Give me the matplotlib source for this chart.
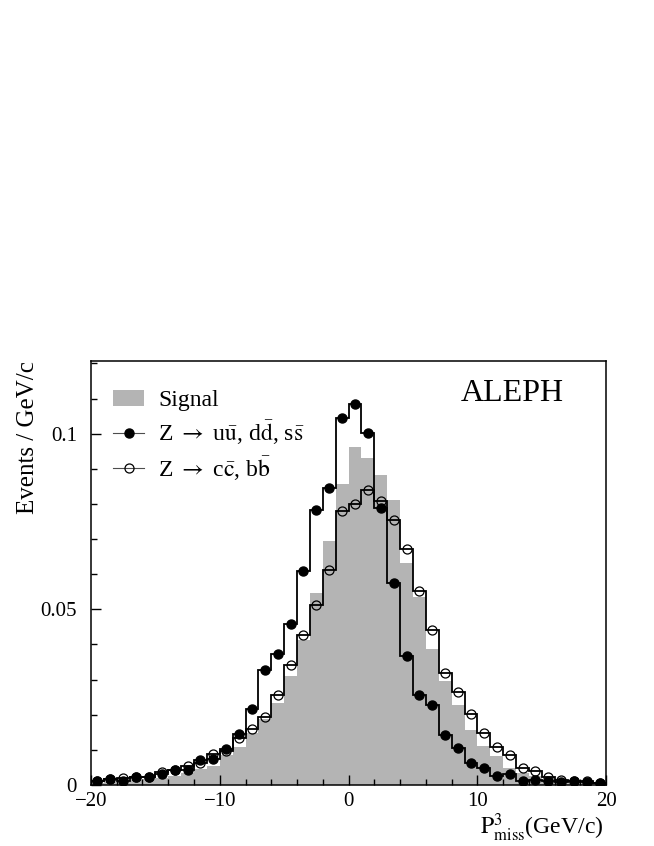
import numpy as np
import matplotlib
matplotlib.use("Agg")
import matplotlib.pyplot as plt
from matplotlib.ticker import MultipleLocator, FixedLocator
from matplotlib.patches import Patch
from matplotlib.lines import Line2D

plt.rcParams['font.family'] = ['Liberation Serif', 'DejaVu Serif']
plt.rcParams['mathtext.fontset'] = 'stix'

# bin edges of P_miss^3 (GeV/c), 1 GeV/c wide
edges = np.arange(-20, 21, 1)
centers = edges[:-1] + 0.5

signal = [0.0006, 0.0008, 0.0010, 0.0013, 0.0016, 0.0020, 0.0027, 0.0035, 0.0046, 0.0055,
          0.0085, 0.0109, 0.0147, 0.0187, 0.0234, 0.0310, 0.0412, 0.0547, 0.0696, 0.0857,
          0.0963, 0.0931, 0.0883, 0.0812, 0.0632, 0.0535, 0.0388, 0.0296, 0.0227, 0.0156,
          0.0111, 0.0082, 0.0049, 0.0033, 0.0025, 0.0017, 0.0012, 0.0008, 0.0006, 0.0004]

# Z -> uu, dd, ss (filled dots)
light = [0.0012, 0.0018, 0.0010, 0.0023, 0.0023, 0.0031, 0.0042, 0.0042, 0.0070, 0.0073,
         0.0103, 0.0146, 0.0215, 0.0326, 0.0372, 0.0457, 0.0610, 0.0784, 0.0845, 0.1044,
         0.1084, 0.1002, 0.0788, 0.0574, 0.0366, 0.0257, 0.0228, 0.0141, 0.0105, 0.0062,
         0.0047, 0.0027, 0.0032, 0.0012, 0.0015, 0.0010, 0.0008, 0.0010, 0.0008, 0.0006]

# Z -> cc, bb (open dots)
heavy = [0.0010, 0.0017, 0.0021, 0.0022, 0.0024, 0.0036, 0.0044, 0.0053, 0.0062, 0.0087,
         0.0097, 0.0133, 0.0159, 0.0195, 0.0256, 0.0341, 0.0428, 0.0513, 0.0613, 0.0779,
         0.0800, 0.0839, 0.0808, 0.0753, 0.0672, 0.0551, 0.0440, 0.0318, 0.0265, 0.0202,
         0.0147, 0.0107, 0.0085, 0.0048, 0.0040, 0.0023, 0.0013, 0.0010, 0.0010, 0.0005]

fig = plt.figure(figsize=(6.54, 8.46), dpi=100)
ax = fig.add_axes([0.139, 0.0721, 0.788, 0.5012])

grey = '#b4b4b4'
ax.stairs(signal, edges, fill=True, color=grey, lw=0)
ax.stairs(light, edges, color='k', lw=1.3, baseline=None)
ax.stairs(heavy, edges, color='k', lw=1.3, baseline=None)
ax.plot(centers, light, 'o', ms=6.5, mfc='k', mec='k', ls='none')
ax.plot(centers, heavy, 'o', ms=6.5, mfc='none', mec='k', mew=0.9, ls='none')

ax.set_xlim(-20, 20)
ax.set_ylim(0, 0.1207)
ax.xaxis.set_major_locator(FixedLocator([-20, -10, 0, 10, 20]))
ax.xaxis.set_minor_locator(MultipleLocator(2))
ax.yaxis.set_major_locator(FixedLocator([0, 0.05, 0.1]))
ax.yaxis.set_minor_locator(MultipleLocator(0.01))
ax.set_xticklabels(['\u221220', '\u221210', '0', '10', '20'])
ax.set_yticklabels(['0', '0.05', '0.1'])
ax.tick_params(which='both', direction='in', labelsize=15, top=False, right=False)
ax.tick_params(which='major', length=7, width=1)
ax.tick_params(which='minor', length=4, width=1)
ax.tick_params(axis='y', pad=10)
ax.tick_params(axis='x', pad=5)
for s in ax.spines.values():
    s.set_linewidth(1.1)

ax.set_ylabel('Events / GeV/c', fontsize=18, loc='top', labelpad=1)
fig.text(0.922, 0.013, r'$\mathrm{P}^{3}_{\mathrm{miss}}$(GeV/c)', fontsize=17,
         ha='right', va='baseline')

ax.text(0.918, 0.905, 'ALEPH', transform=ax.transAxes, fontsize=23,
        ha='right', va='baseline')

handles = [
    Patch(facecolor=grey, edgecolor='none'),
    Line2D([], [], color='0.3', lw=0.8, marker='o', ms=6.5, mfc='k', mec='k'),
    Line2D([], [], color='0.3', lw=0.8, marker='o', ms=6.5, mfc='none', mec='k', mew=0.9),
]
labels = ['Signal',
          r'Z $\rightarrow$ u$\bar{\mathrm{u}}$, d$\bar{\mathrm{d}}$, s$\bar{\mathrm{s}}$',
          r'Z $\rightarrow$ c$\bar{\mathrm{c}}$, b$\bar{\mathrm{b}}$']
ax.legend(handles, labels, loc='upper left', bbox_to_anchor=(0.025, 0.955),
          frameon=False, fontsize=17, handlelength=1.3, handletextpad=0.6,
          labelspacing=0.3, borderaxespad=0)

fig.savefig('out.png', dpi=100)
